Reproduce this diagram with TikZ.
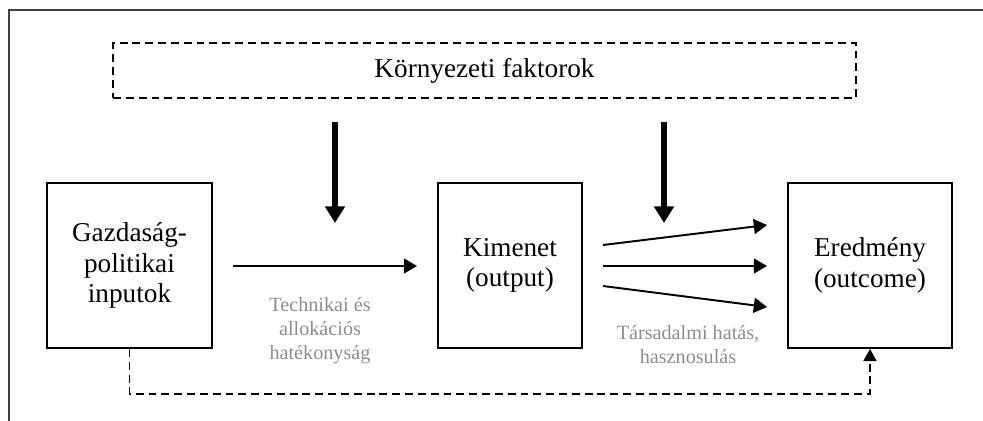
\documentclass[tikz,border=0pt]{standalone}
\usepackage{fontspec}
\setmainfont{Liberation Serif}
\usetikzlibrary{arrows.meta,positioning}
\tikzset{
  box/.style={draw, line width=1.1pt, minimum height=3.3cm, align=center,
    font=\fontsize{15.5}{17.5}\selectfont},
  envbox/.style={draw, dashed, line width=1.1pt, dash pattern=on 4.5pt off 2.8pt,
    minimum width=14.86cm, minimum height=1.1cm, font=\fontsize{15.5}{17.5}\selectfont},
  note/.style={align=center, text=black!45, font=\fontsize{11.5}{13.6}\selectfont},
  flow/.style={line width=1.1pt, -{Triangle[length=7.5pt,width=8.5pt]}},
  push/.style={line width=3.4pt, -{Triangle[length=9.5pt,width=11pt]}},
  feed/.style={line width=1.1pt, dash pattern=on 4.5pt off 2.8pt,
    -{Triangle[length=7pt,width=7.5pt]}},
  frame/.style={line width=0.8pt, draw=black!75}
}
\begin{document}
\begin{tikzpicture}[x=0.02cm,y=-0.02cm]
    \useasboundingbox (0,0) rectangle (983,421);
    % Frame
    \coordinate (fr1) at (983,10);
    \coordinate (fr2) at (9,10);
    \coordinate (fr3) at (9,421);
    \draw[frame] (fr1) -- (fr2) -- (fr3);
    % Environment
    \node[envbox] (env) at (484.5,70.5) {Környezeti faktorok};
    % Boxes
    \node[box, minimum width=3.3cm] (input) at (129.5,265.5) {Gazdaság-\\politikai\\inputok};
    \node[box, minimum width=2.88cm] (output) at (510,265.5) {Kimenet\\(output)};
    \node[box, minimum width=3.28cm] (outcome) at (870,265.5) {Eredmény\\(outcome)};
    % Labels below arrows
    \node[note] (eff) at (320,331) {Technikai és\\allokációs\\hatékonyság};
    \node[note] (imp) at (688,345) {Társadalmi hatás,\\hasznosulás};
    % Points for arrows
    \coordinate (p1) at (335,122);
    \coordinate (p2) at (335,223);
    \coordinate (q1) at (664,122);
    \coordinate (q2) at (664,223);
    \coordinate (a1) at (233,266);
    \coordinate (a2) at (417,266);
    \coordinate (b1) at (603,245);
    \coordinate (b2) at (767,225);
    \coordinate (c1) at (603,266);
    \coordinate (c2) at (767,266);
    \coordinate (d1) at (603,286);
    \coordinate (d2) at (767,307);
    \coordinate (fb) at (500,394);
    % Arrows
    \draw[push] (p1) -- (p2);
    \draw[push] (q1) -- (q2);
    \draw[flow] (a1) -- (a2);
    \draw[flow] (b1) -- (b2);
    \draw[flow] (c1) -- (c2);
    \draw[flow] (d1) -- (d2);
    \draw[feed] (input.south) |- (fb) -| (outcome.south);
\end{tikzpicture}
\end{document}
